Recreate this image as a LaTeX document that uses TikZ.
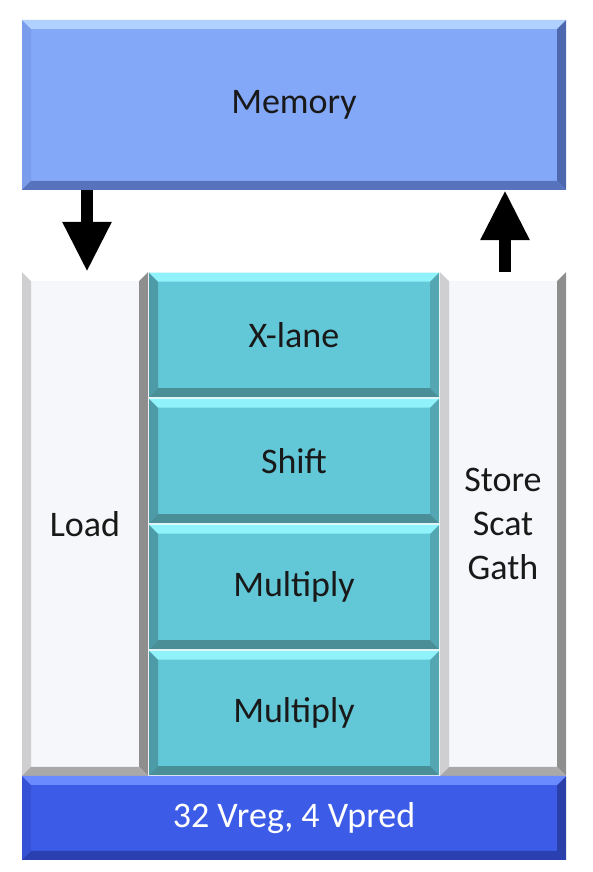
\documentclass[tikz,border=0pt]{standalone}
\usepackage{fontspec}
\setmainfont{Carlito}
\usetikzlibrary{arrows.meta}
\definecolor{memFill}{HTML}{84A8F8}
\definecolor{memTop}{HTML}{B0D0FF}
\definecolor{memBot}{HTML}{5873BE}
\definecolor{memLeft}{HTML}{7A9CEB}
\definecolor{memRight}{HTML}{4D68AE}
\definecolor{aluFill}{HTML}{62C7D7}
\definecolor{aluTop}{HTML}{90F2FA}
\definecolor{aluBot}{HTML}{4A8E98}
\definecolor{aluLeft}{HTML}{4E9BA8}
\definecolor{aluRight}{HTML}{55A6B3}
\definecolor{lsFill}{HTML}{F6F7FB}
\definecolor{lsTop}{HTML}{FFFFFF}
\definecolor{lsBot}{HTML}{A9A9A9}
\definecolor{lsLeft}{HTML}{CFCFD2}
\definecolor{lsRight}{HTML}{8E8E8E}
\definecolor{regFill}{HTML}{3C5CE8}
\definecolor{regTop}{HTML}{6A8AFF}
\definecolor{regBot}{HTML}{2A40B0}
\definecolor{regLeft}{HTML}{3552D6}
\definecolor{regRight}{HTML}{2A3FA8}

\begin{document}
\begin{tikzpicture}[x=1pt, y=1pt, font=\fontsize{36}{44}\selectfont,
    bevel/.style n args={5}{fill=#1, inner sep=0pt, text=black!90, align=center,
      path picture={
        \path (path picture bounding box.north west) coordinate (pNW)
              (path picture bounding box.north east) coordinate (pNE)
              (path picture bounding box.south west) coordinate (pSW)
              (path picture bounding box.south east) coordinate (pSE);
        \fill[#4] (pNW) -- ([shift={(9pt,-9pt)}]pNW) -- ([shift={(9pt,9pt)}]pSW) -- (pSW) -- cycle;
        \fill[#5] (pNE) -- ([shift={(-9pt,-9pt)}]pNE) -- ([shift={(-9pt,9pt)}]pSE) -- (pSE) -- cycle;
        \fill[#2] (pNW) -- (pNE) -- ([shift={(-9pt,-9pt)}]pNE) -- ([shift={(9pt,-9pt)}]pNW) -- cycle;
        \fill[#3] (pSW) -- (pSE) -- ([shift={(-9pt,9pt)}]pSE) -- ([shift={(9pt,9pt)}]pSW) -- cycle;
      }},
    memory/.style={bevel={memFill}{memTop}{memBot}{memLeft}{memRight},
      minimum width=544pt, minimum height=170pt},
    alu/.style={bevel={aluFill}{aluTop}{aluBot}{aluLeft}{aluRight},
      minimum width=290pt, minimum height=124.5pt},
    ldst/.style={bevel={lsFill}{lsTop}{lsBot}{lsLeft}{lsRight},
      minimum width=126pt, minimum height=504pt},
    regfile/.style={bevel={regFill}{regTop}{regBot}{regLeft}{regRight},
      minimum width=544pt, minimum height=84pt, text=white},
    bigarrow/.style={line width=12pt, -{Triangle[width=46pt, length=50pt]}}]
  \useasboundingbox (0,0) rectangle (592,872);
  \node[memory] (mem) at (294,767) {Memory};
  \node[ldst] (load) at (85,348) {Load};
  \node[ldst] (store) at (503,348) {Store\\Scat\\Gath};
  \node[alu] (xlane) at (294,537) {X-lane};
  \node[alu] (shift) at (294,411) {Shift};
  \node[alu] (mulA) at (294,285) {Multiply};
  \node[alu] (mulB) at (294,159) {Multiply};
  \node[regfile] (vreg) at (294,54) {32 Vreg, 4 Vpred};
  \draw[bigarrow] ([xshift=2pt]mem.south -| load) -- ([xshift=2pt]load.north);
  \draw[bigarrow] ([xshift=2pt]store.north) -- ([xshift=2pt]mem.south -| store);
\end{tikzpicture}
\end{document}
